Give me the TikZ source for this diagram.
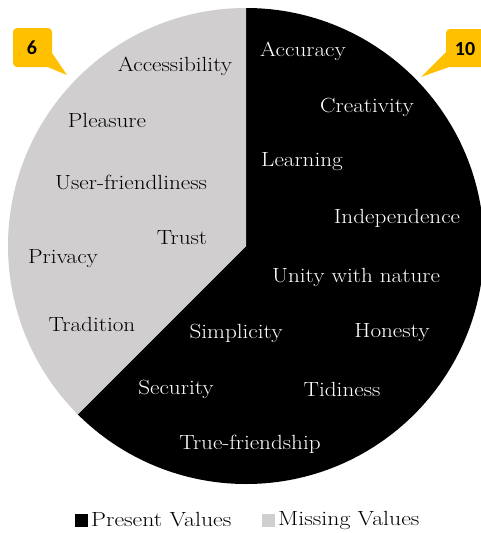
\documentclass[tikz,border=0pt]{standalone}
\usepackage{fontspec}
\newfontfamily\calloutfont{Carlito}
\definecolor{pielight}{HTML}{D0CECE}
\definecolor{gold}{HTML}{FFC000}
\newcommand{\widetxt}[1]{\scalebox{1.13}[1]{#1}}
\newcommand{\widelegend}[1]{\scalebox{1.16}[1]{#1}}
\begin{document}
\begin{tikzpicture}[x=1pt,y=-1pt,
  lbl/.style={font=\fontsize{20.5}{22}\selectfont, inner sep=0pt},
  lblw/.style={lbl, text=white},
  lblk/.style={lbl, text=black},
  callout/.style={fill=gold, draw=none},
  callnum/.style={font=\calloutfont\bfseries\fontsize{20}{22}\selectfont, inner sep=0pt},
  legtext/.style={font=\fontsize{20.5}{22}\selectfont, inner sep=0pt, anchor=west}]
\useasboundingbox (0,0) rectangle (481,533);
\coordinate (c) at (246,246);
% pie
\fill[black] (c) -- (246,8) arc[start angle=90, end angle=-135, radius=238pt] -- cycle;
\fill[pielight] (c) -- (246,8) arc[start angle=90, end angle=225, radius=238pt] -- cycle;
% labels missing
\node[lblk] (acc) at (175,66) {\widetxt{Accessibility}};
\node[lblk] (ple) at (107,120) {\widetxt{Pleasure}};
\node[lblk] (usr) at (131,182) {\widetxt{User-friendliness}};
\node[lblk] (tru) at (182,238) {\widetxt{Trust}};
\node[lblk] (pri) at (63,259) {\widetxt{Privacy}};
\node[lblk] (tra) at (92,324) {\widetxt{Tradition}};
% labels present
\node[lblw] (acu) at (303,51) {\widetxt{Accuracy}};
\node[lblw] (cre) at (367,107) {\widetxt{Creativity}};
\node[lblw] (lea) at (302,162) {\widetxt{Learning}};
\node[lblw] (ind) at (397,218) {\widetxt{Independence}};
\node[lblw] (uni) at (356,277) {\widetxt{Unity with nature}};
\node[lblw] (sim) at (236,333) {\widetxt{Simplicity}};
\node[lblw] (hon) at (392,333) {\widetxt{Honesty}};
\node[lblw] (sec) at (176,389) {\widetxt{Security}};
\node[lblw] (tid) at (342,389) {\widetxt{Tidiness}};
\node[lblw] (trf) at (250,444) {\widetxt{True-friendship}};
% callouts
\fill[callout, rounded corners=4pt] (13,28) rectangle (52,67);
\fill[callout] (50,50) -- (67,75) -- (45,66) -- cycle;
\node[callnum] (six) at (32,48) {6};
\fill[callout, rounded corners=4pt] (446,29) rectangle (495,67);
\fill[callout] (447,51) -- (421,77) -- (452,66) -- cycle;
\node[callnum] (ten) at (465,49) {10};
% legend
\fill[black] (75,514) rectangle (88,527);
\node[legtext] (lp) at (91,520) {\widelegend{Present Values}};
\fill[pielight] (262,514) rectangle (275,527);
\node[legtext] (lm) at (278,520) {\widelegend{Missing Values}};
\end{tikzpicture}
\end{document}
